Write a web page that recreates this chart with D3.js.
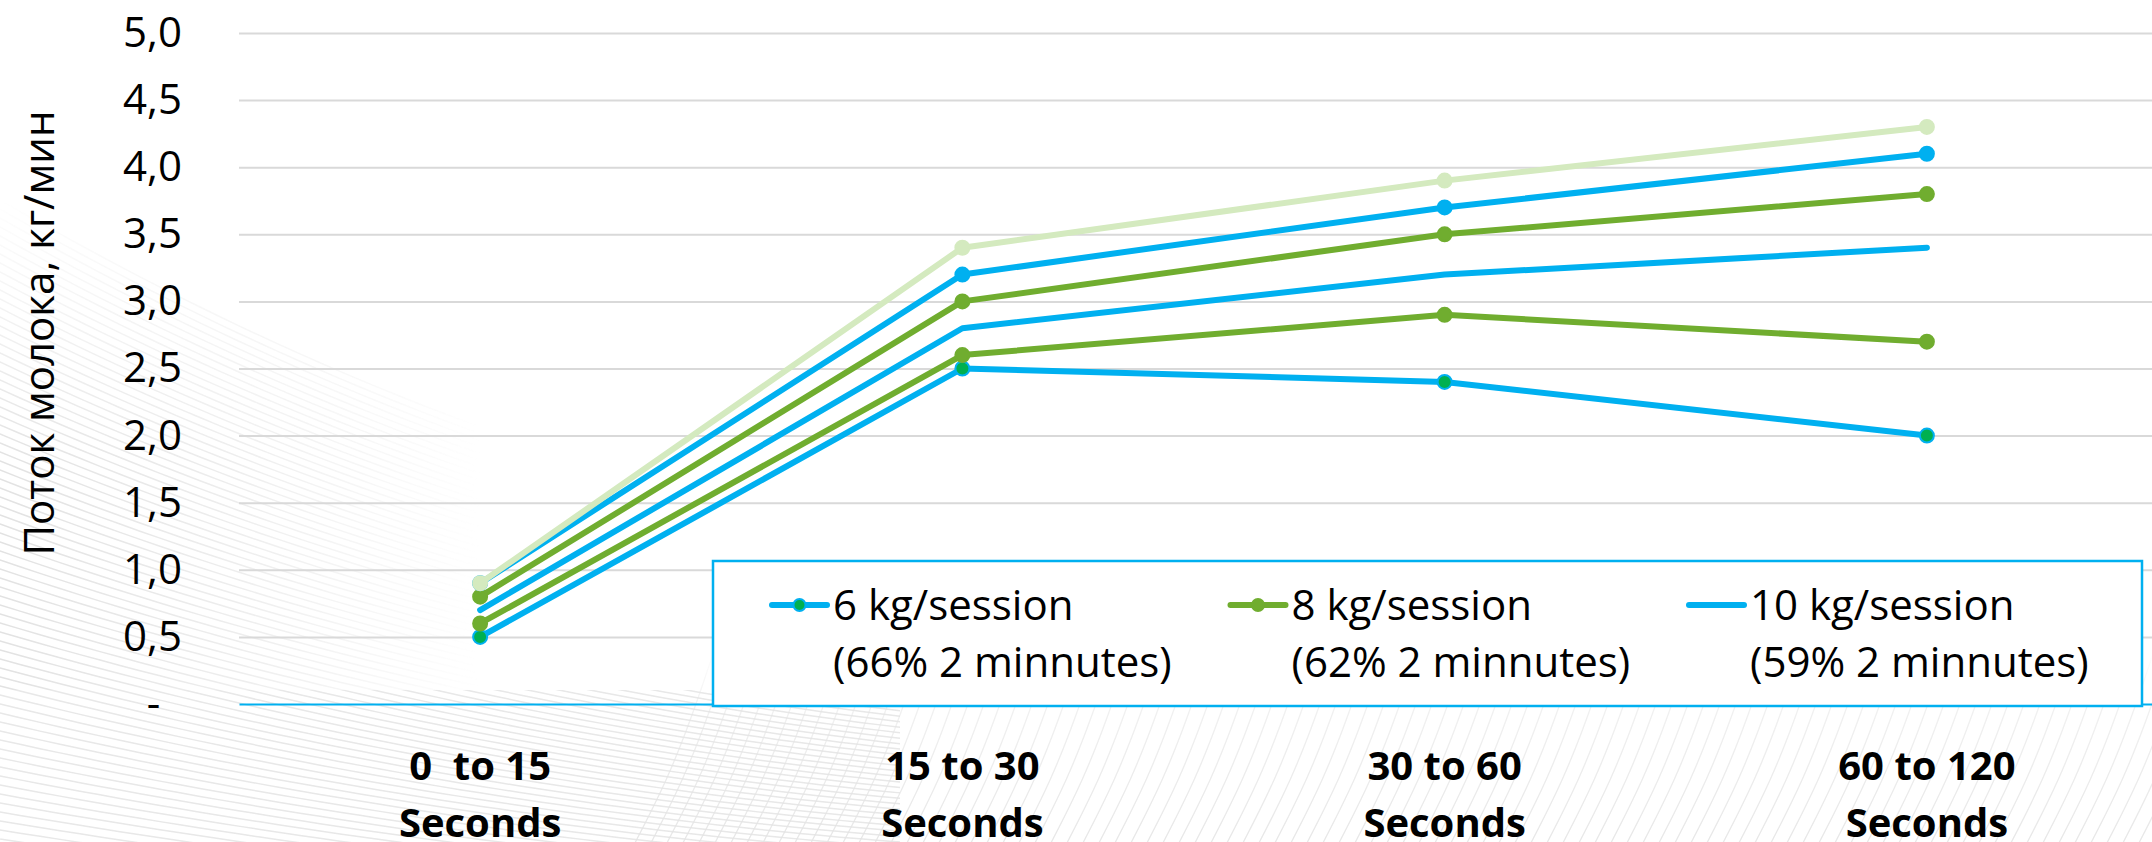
<!DOCTYPE html>
<html>
<head>
<meta charset="utf-8">
<script src="https://cdn.jsdelivr.net/npm/d3@7"></script>
<style>
  html, body { margin: 0; padding: 0; background: #ffffff; }
  svg { display: block; }
  text { font-family: "Open Sans", "Noto Sans", sans-serif; }
</style>
</head>
<body>
<svg id="chart" width="2152" height="842"></svg>
<script>
// ---------------- DATA ----------------
const categories = ["0  to 15\nSeconds", "15 to 30\nSeconds", "30 to 60\nSeconds", "60 to 120\nSeconds"];
const flow6kg     = [0.5, 2.5, 2.4, 2.0];
const flow8kg     = [0.6, 2.6, 2.9, 2.7];
const flow10kg    = [0.7, 2.8, 3.2, 3.4];
const flowSeries4 = [0.8, 3.0, 3.5, 3.8];
const flowSeries5 = [0.9, 3.2, 3.7, 4.1];
const flowSeries6 = [0.9, 3.4, 3.9, 4.3];
const seriesNames = [
  "6 kg/session\n(66% 2 minnutes)",
  "8 kg/session\n(62% 2 minnutes)",
  "10 kg/session\n(59% 2 minnutes)",
  "Series 4", "Series 5", "Series 6"
];
const legendSeries = [0, 1, 2];
const yTickValues = [0, 0.5, 1, 1.5, 2, 2.5, 3, 3.5, 4, 4.5, 5];
const yTickLabels = ["-", "0,5", "1,0", "1,5", "2,0", "2,5", "3,0", "3,5", "4,0", "4,5", "5,0"];
const yAxisTitle = "Поток молока, кг/мин";

// ---------------- STYLE ----------------
const BLUE = "#00b0f0", GREEN = "#70ad2f", LIGHT = "#d4eabf", MGREEN = "#00b050";
const seriesValues = [flow6kg, flow8kg, flow10kg, flowSeries4, flowSeries5, flowSeries6];
const seriesStyles = [
  { stroke: BLUE,  marker: true,  fill: MGREEN, mstroke: BLUE },
  { stroke: GREEN, marker: true,  fill: GREEN,  mstroke: GREEN },
  { stroke: BLUE,  marker: false },
  { stroke: GREEN, marker: true,  fill: GREEN,  mstroke: GREEN },
  { stroke: BLUE,  marker: true,  fill: BLUE,   mstroke: BLUE },
  { stroke: LIGHT, marker: true,  fill: LIGHT,  mstroke: LIGHT }
];

const W = 2152, H = 842;
const plotL = 239, plotT = 33, plotB = 704, bandR = 2168;
const svg = d3.select("#chart");

// ---------------- BACKGROUND PATTERN (decorative) ----------------
const defs = svg.append("defs");
const gL = defs.append("linearGradient").attr("id", "fadeL");
gL.append("stop").attr("offset", 0).attr("stop-color", "#fff");
gL.append("stop").attr("offset", 0.5).attr("stop-color", "#999");
gL.append("stop").attr("offset", 1).attr("stop-color", "#000");
const gT = defs.append("linearGradient").attr("id", "fadeT")
  .attr("x1", 0).attr("y1", 0).attr("x2", 0).attr("y2", 1);
gT.append("stop").attr("offset", 0).attr("stop-color", "#000");
gT.append("stop").attr("offset", 1).attr("stop-color", "#fff");
const gB = defs.append("linearGradient").attr("id", "fadeB")
  .attr("x1", 0).attr("y1", 1).attr("x2", 0).attr("y2", 0);
gB.append("stop").attr("offset", 0).attr("stop-color", "#ddd");
gB.append("stop").attr("offset", 0.7).attr("stop-color", "#888");
gB.append("stop").attr("offset", 1).attr("stop-color", "#000");

const maskL = defs.append("mask").attr("id", "maskL")
  .attr("maskUnits", "userSpaceOnUse").attr("x", 0).attr("y", 0).attr("width", W).attr("height", H);
maskL.append("rect").attr("width", W).attr("height", H).attr("fill", "#000");
maskL.append("rect").attr("x", 0).attr("y", 0).attr("width", 480).attr("height", H).attr("fill", "url(#fadeL)");
maskL.append("rect").attr("x", 0).attr("y", 690).attr("width", 900).attr("height", H - 690).attr("fill", "#ccc");
const maskT = defs.append("mask").attr("id", "maskT")
  .attr("maskUnits", "userSpaceOnUse").attr("x", 0).attr("y", 0).attr("width", W).attr("height", H);
maskT.append("rect").attr("x", 0).attr("y", 200).attr("width", W).attr("height", 260).attr("fill", "url(#fadeT)");
maskT.append("rect").attr("x", 0).attr("y", 460).attr("width", W).attr("height", H - 460).attr("fill", "#fff");
const maskB = defs.append("mask").attr("id", "maskB")
  .attr("maskUnits", "userSpaceOnUse").attr("x", 0).attr("y", 0).attr("width", W).attr("height", H);
maskB.append("rect").attr("x", 0).attr("y", 650).attr("width", W).attr("height", H - 650).attr("fill", "url(#fadeB)");

const pline = d3.line().curve(d3.curveBasis);
const bgL = svg.append("g").attr("mask", "url(#maskT)").append("g").attr("mask", "url(#maskL)")
  .attr("fill", "none").attr("stroke", "#e2e2e2").attr("stroke-width", 1.5);
for (let y0 = 200; y0 <= 860; y0 += 9) {
  const s0 = 0.58 - 0.44 * (y0 - 200) / 660;
  const pts = d3.range(-20, 1100, 20).map(px => [px, y0 + s0 * px * (1 - px / 2600)]);
  bgL.append("path").attr("d", pline(pts));
}
const bgB = svg.append("g").attr("mask", "url(#maskB)")
  .attr("fill", "none").attr("stroke", "#e4e4e4").attr("stroke-width", 1.3);
for (let x0 = 640; x0 <= 2300; x0 += 16) {
  const pts = [[x0 - 14, 860], [x0 + 28, 780], [x0 + 58, 700], [x0 + 84, 620]];
  bgB.append("path").attr("d", pline(pts));
}

// ---------------- SCALES ----------------
const x = d3.scaleBand().domain(categories).range([plotL, bandR]);
const cx = c => x(c) + x.bandwidth() / 2;
const y = d3.scaleLinear().domain([0, 5]).range([plotB, plotT]);

// gridlines
const grid = svg.append("g").attr("transform", `translate(${plotL},0)`)
  .call(d3.axisRight(y).tickValues(yTickValues.filter(v => v > 0)).tickSize(W - plotL).tickFormat(""));
grid.select(".domain").remove();
grid.selectAll("line").attr("stroke", "#d9d9d9").attr("stroke-width", 2);

// y labels
const yAx = svg.append("g").attr("transform", `translate(${plotL},0)`)
  .call(d3.axisLeft(y).tickValues(yTickValues).tickSize(0).tickPadding(57)
    .tickFormat((d, i) => yTickLabels[i] === "-" ? "-\u00a0\u00a0" : yTickLabels[i]));
yAx.select(".domain").remove();
yAx.selectAll("text").attr("font-size", 42).attr("fill", "#000")
  .attr("font-family", "'Open Sans', sans-serif").style("white-space", "pre");

// x axis (baseline + category labels)
const xAx = svg.append("g").attr("transform", `translate(0,${plotB})`)
  .call(d3.axisBottom(x).tickSize(0).tickSizeOuter(0).tickFormat(""));
xAx.select(".domain").attr("stroke", BLUE).attr("stroke-width", 2);
xAx.selectAll(".tick text").remove();
xAx.selectAll(".tick").each(function (d) {
  const t = d3.select(this).append("text")
    .attr("text-anchor", "middle").attr("font-size", 40).attr("font-weight", 700)
    .attr("fill", "#000").attr("font-family", "'Open Sans', sans-serif")
    .style("white-space", "pre");
  d.split("\n").forEach((ln, i) => {
    t.append("tspan").attr("x", 0).attr("y", i === 0 ? 76 : 133).text(ln);
  });
});

// y axis title
svg.append("text")
  .attr("transform", "translate(54,333) rotate(-90)")
  .attr("text-anchor", "middle").attr("font-size", 42).attr("fill", "#000")
  .text(yAxisTitle);

// ---------------- SERIES ----------------
const line = d3.line().x((d, i) => cx(categories[i])).y(d => y(d));
seriesValues.forEach((vals, si) => {
  const st = seriesStyles[si];
  const g = svg.append("g").attr("class", "series");
  g.append("path").datum(vals).attr("d", line)
    .attr("fill", "none").attr("stroke", st.stroke).attr("stroke-width", 6)
    .attr("stroke-linejoin", "round").attr("stroke-linecap", "round");
  if (st.marker) {
    g.selectAll("circle").data(vals).join("circle")
      .attr("cx", (d, i) => cx(categories[i])).attr("cy", d => y(d))
      .attr("r", 7).attr("fill", st.fill).attr("stroke", st.mstroke).attr("stroke-width", 2);
  }
});

// ---------------- LEGEND ----------------
const lg = svg.append("g");
lg.append("rect").attr("x", 713).attr("y", 561).attr("width", 1429).attr("height", 145)
  .attr("fill", "#fff").attr("stroke", BLUE).attr("stroke-width", 2.5);
legendSeries.forEach((si, k) => {
  const st = seriesStyles[si];
  const sx = 772 + k * 458.5;
  lg.append("line").attr("x1", sx).attr("x2", sx + 55).attr("y1", 605).attr("y2", 605)
    .attr("stroke", st.stroke).attr("stroke-width", 6).attr("stroke-linecap", "round");
  if (st.marker) {
    lg.append("circle").attr("cx", sx + 27.5).attr("cy", 605).attr("r", 6)
      .attr("fill", st.fill).attr("stroke", st.mstroke).attr("stroke-width", 2);
  }
  const t = lg.append("text").attr("font-size", 42).attr("fill", "#000");
  seriesNames[si].split("\n").forEach((ln, i) => {
    t.append("tspan").attr("x", sx + 61).attr("y", i === 0 ? 620 : 677).text(ln);
  });
});
</script>
</body>
</html>
